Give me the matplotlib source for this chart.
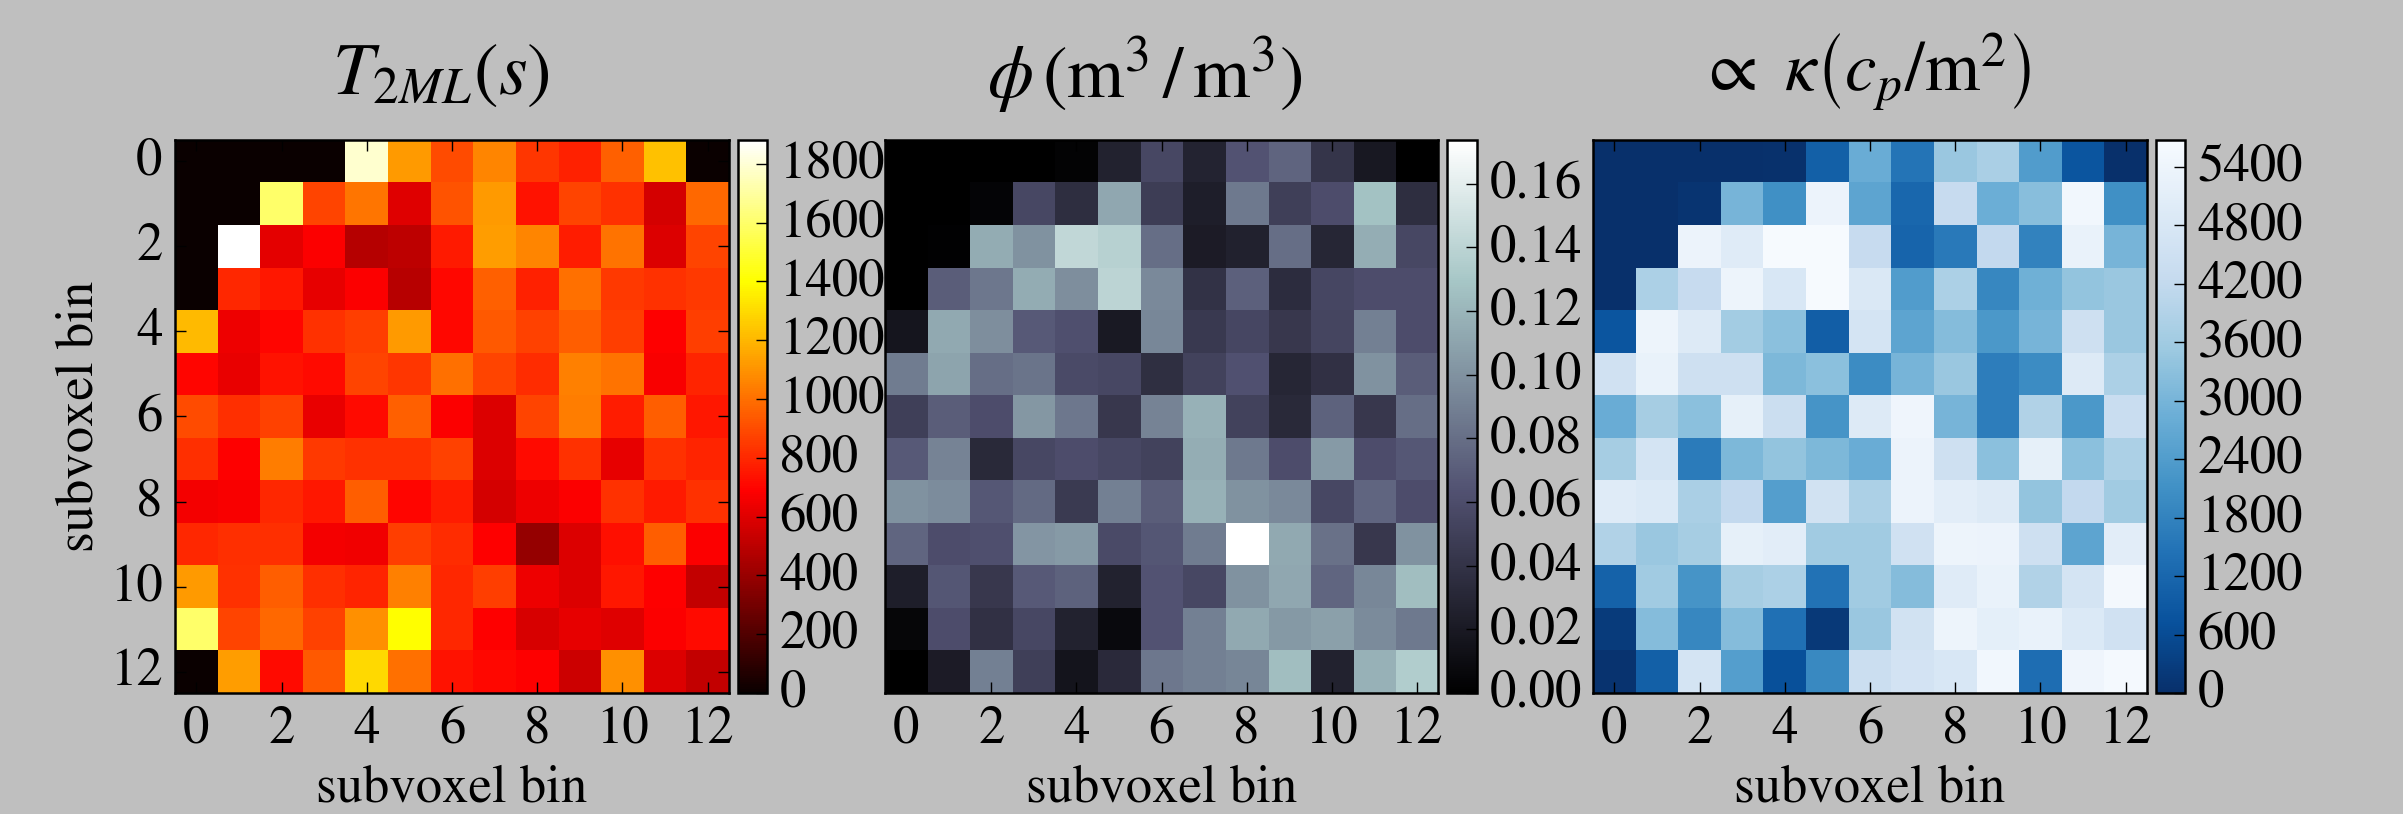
#!/usr/bin/env python3
"""Three subvoxel heatmaps: T2ML, porosity and permeability."""

import numpy as np
import matplotlib
matplotlib.use('Agg')
import matplotlib.pyplot as plt
from matplotlib.transforms import ScaledTranslation

plt.rcParams['font.family'] = ['STIXGeneral', 'DejaVu Serif']
plt.rcParams['mathtext.fontset'] = 'stix'

t2ml = [
    [0, 0, 0, 0, 1790, 1120, 900, 1060, 840, 780, 960, 1230, 0],
    [0, 0, 1600, 880, 1020, 600, 920, 1120, 740, 880, 830, 570, 980],
    [0, 1880, 610, 680, 480, 500, 760, 1130, 1060, 770, 1010, 590, 880],
    [0, 800, 750, 620, 680, 490, 710, 960, 780, 1000, 850, 830, 850],
    [1210, 640, 700, 830, 860, 1120, 710, 940, 870, 950, 860, 690, 860],
    [700, 630, 740, 720, 880, 840, 1000, 880, 810, 1050, 1010, 670, 790],
    [900, 820, 870, 630, 720, 960, 680, 590, 880, 1040, 770, 950, 750],
    [820, 690, 1040, 850, 830, 830, 870, 590, 720, 830, 620, 830, 790],
    [660, 670, 800, 750, 950, 700, 770, 570, 640, 680, 830, 760, 830],
    [800, 820, 820, 660, 650, 860, 810, 690, 390, 590, 730, 950, 680],
    [1120, 830, 950, 820, 790, 1050, 800, 860, 640, 590, 750, 690, 520],
    [1600, 880, 980, 870, 1090, 1400, 800, 690, 580, 620, 600, 680, 720],
    [0, 1130, 720, 940, 1300, 1000, 740, 710, 690, 550, 1090, 590, 520],
]

porosity = [
    [0, 0, 0, 0, .003, .027, .056, .028, .064, .074, .042, .019, 0],
    [0, 0, .004, .056, .036, .112, .048, .024, .086, .05, .06, .127, .036],
    [0, .002, .115, .10, .143, .138, .08, .022, .026, .08, .03, .116, .056],
    [0, .07, .085, .115, .098, .14, .095, .04, .072, .035, .055, .06, .06],
    [.017, .113, .098, .068, .062, .02, .094, .045, .055, .044, .054, .09, .06],
    [.088, .11, .08, .083, .058, .056, .037, .052, .063, .03, .038, .1, .07],
    [.05, .07, .06, .103, .085, .044, .092, .118, .052, .032, .073, .044, .08],
    [.068, .092, .032, .056, .06, .056, .052, .116, .086, .06, .105, .06, .067],
    [.1, .097, .067, .078, .046, .09, .07, .118, .1, .095, .056, .075, .06],
    [.075, .06, .062, .102, .105, .058, .066, .088, .1737, .113, .082, .044, .1],
    [.024, .066, .044, .068, .073, .027, .064, .056, .1, .112, .075, .094, .125],
    [.005, .06, .038, .056, .027, .008, .064, .09, .113, .104, .108, .096, .086],
    [0, .022, .09, .05, .016, .033, .085, .09, .093, .125, .027, .118, .135],
]

perm = [
    [0, 0, 0, 0, 40, 1050, 2800, 1500, 3500, 3750, 2400, 800, 0],
    [0, 0, 100, 3000, 2100, 5350, 2600, 1200, 4300, 2850, 3250, 5500, 2100],
    [0, 0, 5350, 5000, 5650, 5650, 4300, 1150, 1600, 4200, 1800, 5300, 3000],
    [0, 3800, 4300, 5400, 4800, 5650, 4850, 2400, 3800, 1900, 2900, 3400, 3500],
    [800, 5400, 4950, 3650, 3300, 1000, 4700, 2600, 3200, 2300, 3000, 4500, 3500],
    [4550, 5300, 4500, 4500, 3100, 3300, 2000, 3000, 3500, 1700, 2000, 4950, 3800],
    [2800, 3700, 3300, 5200, 4400, 2200, 4950, 5450, 3000, 1700, 3900, 2300, 4350],
    [3700, 4700, 1650, 3100, 3400, 3100, 2800, 5350, 4500, 3300, 5200, 3300, 3800],
    [5000, 4900, 3750, 4200, 2450, 4600, 3800, 5350, 5100, 4950, 3400, 4200, 3600],
    [3900, 3500, 3700, 5200, 5100, 3600, 3600, 4550, 5400, 5350, 4500, 2600, 5100],
    [1100, 3600, 2200, 3700, 3800, 1450, 3600, 3200, 5000, 5300, 3900, 4700, 5550],
    [250, 3200, 1900, 3200, 1400, 200, 3500, 4600, 5400, 5150, 5300, 4900, 4550],
    [80, 1050, 4700, 2450, 700, 1950, 4400, 4650, 4800, 5500, 1350, 5450, 5600],
]

titles = [r'$T_{2ML}\left(s\right)$',
          r'$\phi\,\left(\mathrm{m}^3\,/\,\mathrm{m}^3\right)$',
          r'$\propto\ \kappa\left(c_p/\mathrm{m}^2\right)$']
title_x = [0.48, 0.47, 0.49]
title_pad = [33, 30, 35]
title_size = [53, 53, 51]
cmaps = ['hot', 'bone', 'Blues_r']
vmax = [1881, 0.1737, 5677]
cbar_ticks = [
    [0, 200, 400, 600, 800, 1000, 1200, 1400, 1600, 1800],
    [0, 0.02, 0.04, 0.06, 0.08, 0.10, 0.12, 0.14, 0.16],
    [0, 600, 1200, 1800, 2400, 3000, 3600, 4200, 4800, 5400],
]
cbar_labels = [
    ['0', '200', '400', '600', '800', '1000', '1200', '1400', '1600', '1800'],
    ['0.00', '0.02', '0.04', '0.06', '0.08', '0.10', '0.12', '0.14', '0.16'],
    ['0', '600', '1200', '1800', '2400', '3000', '3600', '4200', '4800', '5400'],
]
bin_ticks = [0, 2, 4, 6, 8, 10, 12]

W, H = 2403, 814
bg = '#bfbfbf'
fontsize = 38

# pixel boxes: map left, map right, bar left, bar right
boxes = [(175, 729, 738, 767), (885, 1438, 1447, 1477), (1593, 2147, 2156, 2185)]
top, bottom = 140, 693

fig = plt.figure(figsize=(W / 100, H / 100), dpi=100)
fig.patch.set_facecolor(bg)
# tick labels sit a little above their ticks in the original
raise_labels = ScaledTranslation(0, 3.5 / 72, fig.dpi_scale_trans)

for i, data in enumerate([t2ml, porosity, perm]):
    left, right, bar_left, bar_right = boxes[i]
    ax = fig.add_axes([left / W, 1 - bottom / H, (right - left) / W, (bottom - top) / H])
    cax = fig.add_axes([bar_left / W, 1 - bottom / H, (bar_right - bar_left) / W, (bottom - top) / H])

    im = ax.imshow(np.array(data), cmap=cmaps[i], vmin=0, vmax=vmax[i],
                   interpolation='nearest', aspect='auto')
    cbar = fig.colorbar(im, cax=cax)
    cbar.set_ticks(cbar_ticks[i])
    cbar.set_ticklabels(cbar_labels[i])
    cbar.ax.tick_params(direction='in', length=8, width=1, labelsize=fontsize, pad=9, colors='black')
    cbar.outline.set_linewidth(1.8)
    for lab in cbar.ax.get_yticklabels():
        lab.set_transform(lab.get_transform() + raise_labels)

    ax.set_xticks(bin_ticks)
    if i == 0:
        ax.set_yticks(bin_ticks)
        ax.set_ylabel('subvoxel bin', fontsize=fontsize, labelpad=4)
    else:
        ax.set_yticks([])
    ax.tick_params(direction='in', length=8, width=1, labelsize=fontsize, pad=9,
                   top=True, right=True)
    for lab in ax.get_yticklabels():
        lab.set_transform(lab.get_transform() + raise_labels)
    ax.set_xlabel('subvoxel bin', fontsize=fontsize, labelpad=7)
    ax.set_title(titles[i], fontsize=title_size[i], pad=title_pad[i], x=title_x[i])
    for spine in ax.spines.values():
        spine.set_linewidth(1.8)

fig.savefig('out.png', dpi=100, facecolor=bg)
